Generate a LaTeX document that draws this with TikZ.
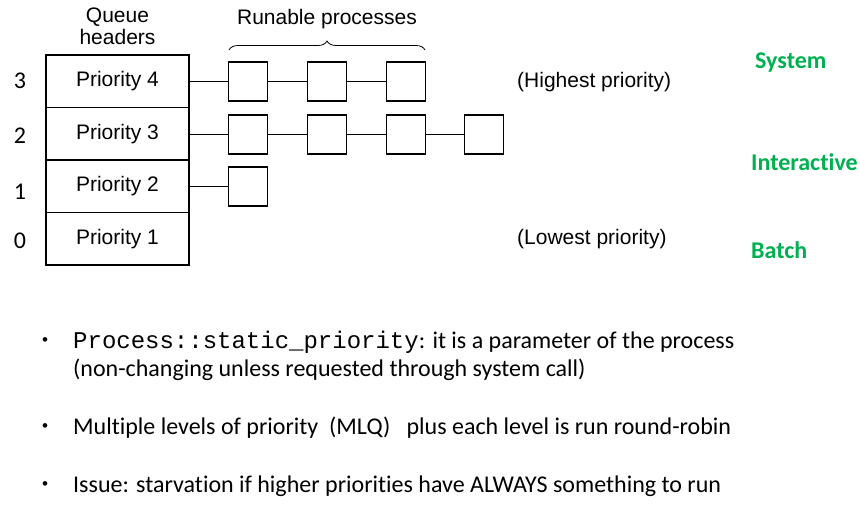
\documentclass[tikz,border=0pt]{standalone}
\usepackage{fontspec}
\setmainfont{Liberation Sans}
\newfontfamily\calfont[Ligatures={NoCommon}]{Carlito}
\newfontfamily\codefont{Liberation Mono}
\usetikzlibrary{decorations.pathreplacing}
\definecolor{grn}{HTML}{00B050}
\tikzset{
  hdr/.style={draw, line width=1.4pt, minimum width=143pt, minimum height=52.5pt, inner sep=0pt, font=\fontsize{21}{24}\selectfont},
  proc/.style={draw, line width=1.4pt, minimum width=39pt, minimum height=39pt, inner sep=0pt},
  link/.style={line width=1.4pt},
  lvl/.style={font=\calfont\fontsize{24}{28}\selectfont, inner sep=0pt},
  cls/.style={font=\calfont\bfseries\fontsize{24}{28}\selectfont, text=grn, anchor=west, inner sep=0pt},
  lbl/.style={font=\fontsize{21}{24}\selectfont, inner sep=0pt},
  bul/.style={font=\calfont\fontsize{24}{28}\selectfont, anchor=west, inner sep=0pt, align=left},
  dot/.style={font=\fontsize{17}{20}\selectfont, inner sep=0pt}
}
\begin{document}
\begin{tikzpicture}[x=1pt,y=-1pt]
\useasboundingbox (0,0) rectangle (860,519);
% header column
\node[hdr] (h4) at (117.5,81.25) {Priority 4};
\node[hdr] (h3) at (117.5,133.75) {Priority 3};
\node[hdr] (h2) at (117.5,186.25) {Priority 2};
\node[hdr] (h1) at (117.5,238.75) {Priority 1};
\node[lbl, align=center] (qh) at (117.5,26) {Queue\\[-2pt]headers};
% level numbers
\node[lvl] (n3) at (20,81) {3};
\node[lvl] (n2) at (20,136) {2};
\node[lvl] (n1) at (20,192) {1};
\node[lvl] (n0) at (20,241) {0};
% processes
\node[proc] (a1) at (248,81.5) {};
\node[proc] (a2) at (327,81.5) {};
\node[proc] (a3) at (406,81.5) {};
\node[proc] (b1) at (248,134.5) {};
\node[proc] (b2) at (327,134.5) {};
\node[proc] (b3) at (406,134.5) {};
\node[proc] (b4) at (484,134.5) {};
\node[proc] (c1) at (248,186.5) {};
\draw[link] (h4.east |- a1) -- (a1) (a1) -- (a2) (a2) -- (a3);
\draw[link] (h3.east |- b1) -- (b1) (b1) -- (b2) (b2) -- (b3) (b3) -- (b4);
\draw[link] (h2.east |- c1) -- (c1);
% brace
\coordinate (bl) at (229,50);
\coordinate (br) at (425,50);
\draw[line width=0.8pt, decorate, decoration={brace, amplitude=9pt}] (bl) -- (br);
\node[lbl] (rp) at (327,19) {Runable processes};
\node[lbl, anchor=west] (hp) at (517,82) {(Highest priority)};
\node[lbl, anchor=west] (lp) at (517,239) {(Lowest priority)};
% classes
\node[cls] (sys) at (755,63) {System};
\node[cls] (int) at (751,162) {Interactive};
\node[cls] (bat) at (751,250) {Batch};
% bullets
\node[dot] (d1) at (45,342) {•};
\node[dot] (d2) at (45,428) {•};
\node[dot] (d3) at (45,486) {•};
\node[bul] (t1) at (73,356) {{\codefont\fontsize{24}{28}\selectfont Process::static\_priority}: it is a parameter of the process\\(non-changing unless requested through system call)};
\node[bul] (t2) at (73,428) {Multiple levels of priority~ (MLQ)~~ plus each level is run round-robin};
\node[bul] (t3) at (73,486) {Issue: starvation if higher priorities have ALWAYS something to run};
\end{tikzpicture}
\end{document}
